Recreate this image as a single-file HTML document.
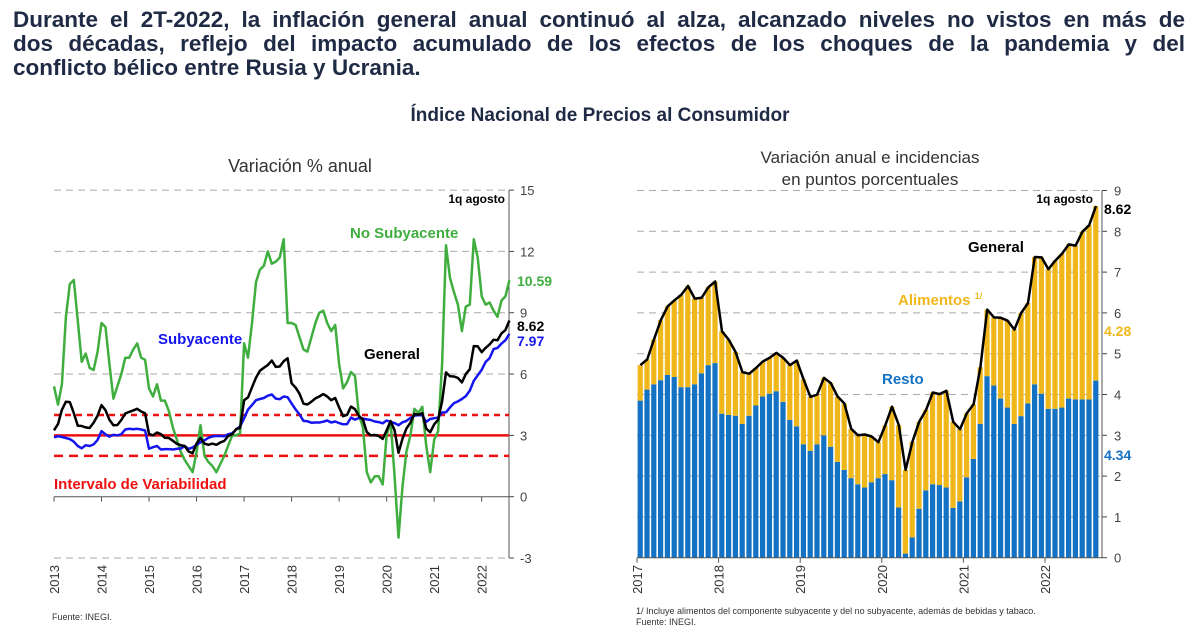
<!DOCTYPE html>
<html><head><meta charset="utf-8"><style>
body{margin:0;width:1200px;height:631px;background:#fff;font-family:"Liberation Sans",sans-serif;position:relative;overflow:hidden}
#hdr{position:absolute;left:13px;top:8px;width:1172px;font-weight:bold;font-size:22.5px;line-height:24px;color:#1f2a44}
#hdr div{white-space:nowrap;text-align:justify;text-align-last:justify}
#hdr div.last{text-align-last:left}
svg{position:absolute;left:0;top:0}
</style></head><body>
<div id="hdr"><div>Durante el 2T-2022, la inflación general anual continuó al alza, alcanzado niveles no vistos en más de</div><div>dos décadas, reflejo del impacto acumulado de los efectos de los choques de la pandemia y del</div><div class="last">conflicto bélico entre Rusia y Ucrania.</div></div>
<svg id="s" width="1200" height="631">
<text x="600" y="121" text-anchor="middle" font-size="19" font-weight="bold" fill="#1f2a44">Índice Nacional de Precios al Consumidor</text>
<text x="300" y="172" text-anchor="middle" font-size="18" fill="#333">Variación % anual</text>
<text x="870" y="163" text-anchor="middle" font-size="17" fill="#333">Variación anual e incidencias</text>
<text x="870" y="185" text-anchor="middle" font-size="17" fill="#333">en puntos porcentuales</text>
<g id="L"></g><g id="R"></g>
<text x="52" y="620" font-size="9" fill="#333">Fuente: INEGI.</text>
<text x="636" y="614" font-size="9" fill="#333">1/ Incluye alimentos del componente subyacente y del no subyacente, además de bebidas y tabaco.</text>
<text x="636" y="625" font-size="9" fill="#333">Fuente: INEGI.</text>
</svg>
<script>
const leftYears=["2013","2014","2015","2016","2017","2018","2019","2020","2021","2022"];
const leftTicks=[-3,0,3,6,9,12,15];
const general=[3.25,3.55,4.25,4.65,4.63,4.09,3.47,3.46,3.39,3.36,3.62,3.97,
4.48,4.23,3.76,3.50,3.51,3.75,4.07,4.15,4.22,4.30,4.17,4.08,
3.07,3.00,3.14,3.06,2.88,2.87,2.74,2.59,2.52,2.48,2.21,2.13,
2.61,2.87,2.60,2.54,2.60,2.54,2.65,2.73,2.97,3.06,3.31,3.36,
4.72,4.86,5.35,5.82,6.16,6.31,6.44,6.66,6.35,6.37,6.63,6.77,
5.55,5.34,5.04,4.55,4.51,4.65,4.81,4.90,5.02,4.90,4.72,4.83,
4.37,3.94,4.00,4.41,4.28,3.95,3.78,3.16,3.00,3.02,2.97,2.83,
3.24,3.70,3.25,2.15,2.84,3.33,3.62,4.05,4.01,4.09,3.33,3.15,
3.54,3.76,4.67,6.08,5.89,5.88,5.81,5.59,6.00,6.24,7.37,7.36,
7.07,7.28,7.45,7.68,7.65,7.99,8.15,8.62];
const subyacente=[2.90,2.96,2.92,2.87,2.82,2.69,2.48,2.37,2.52,2.48,2.56,2.78,
3.21,3.05,2.94,3.03,3.00,3.06,3.29,3.32,3.30,3.32,3.29,3.24,
2.35,2.42,2.48,2.31,2.33,2.33,2.31,2.34,2.36,2.47,2.34,2.41,
2.54,2.66,2.76,2.88,2.95,2.97,2.97,2.96,3.06,3.10,3.29,3.44,
3.84,4.26,4.48,4.72,4.78,4.83,4.94,5.00,4.80,4.77,4.90,4.87,
4.56,4.27,4.02,3.71,3.69,3.62,3.63,3.63,3.67,3.73,3.63,3.68,
3.60,3.54,3.55,3.87,3.77,3.85,3.82,3.78,3.75,3.68,3.65,3.59,
3.73,3.66,3.60,3.50,3.64,3.71,3.85,3.97,3.99,3.98,3.66,3.80,
3.84,3.87,4.12,4.13,4.37,4.58,4.66,4.78,4.92,5.19,5.67,5.94,
6.21,6.59,6.78,7.22,7.28,7.49,7.65,7.97];
const noSubyacente=[5.4,4.5,5.5,8.8,10.4,10.6,8.6,6.6,7.0,6.3,6.2,7.1,
8.5,8.3,6.5,4.8,5.4,6.0,6.8,6.8,7.2,7.5,6.8,6.7,
5.3,4.9,5.5,4.7,4.7,4.2,3.4,2.8,2.2,1.8,1.5,1.2,
2.2,3.5,2.0,1.7,1.5,1.2,1.6,2.0,2.5,3.0,3.0,3.1,
7.5,6.8,8.5,10.5,11.1,11.3,12.0,11.4,11.5,11.7,12.6,8.5,
8.5,8.4,7.8,7.2,7.1,7.8,8.5,9.0,9.1,8.5,8.1,8.4,
6.5,5.3,5.6,6.1,5.9,4.0,3.4,1.2,0.7,1.0,1.0,0.6,
3.0,3.7,1.0,-2.0,0.5,2.2,3.0,4.3,4.1,4.4,2.5,1.2,
2.8,3.2,6.5,12.3,10.7,10.0,9.4,8.1,9.3,9.4,12.6,11.7,
9.8,9.4,9.5,9.1,8.8,9.6,9.8,10.59];
const rightYears=["2017","2018","2019","2020","2021","2022"];
const rightTicks=[0,1,2,3,4,5,6,7,8,9];
const resto=[3.85,4.12,4.25,4.35,4.48,4.43,4.18,4.18,4.25,4.52,4.72,4.77,
3.53,3.50,3.48,3.28,3.48,3.73,3.95,4.02,4.08,3.82,3.38,3.22,
2.78,2.62,2.78,3.00,2.72,2.35,2.15,1.95,1.80,1.72,1.85,1.95,
2.05,1.90,1.23,0.10,0.50,1.20,1.65,1.80,1.78,1.72,1.22,1.38,
1.97,2.42,3.28,4.45,4.22,3.90,3.68,3.28,3.47,3.78,4.25,4.02,
3.65,3.65,3.68,3.90,3.88,3.88,3.88,4.34];
const generalR=general.slice(48);

const NS="http://www.w3.org/2000/svg";
function mk(p,tag,a,txt){const e=document.createElementNS(NS,tag);for(const k in a)e.setAttribute(k,a[k]);if(txt!==undefined)e.textContent=txt;p.appendChild(e);return e;}

// LEFT
const L=document.getElementById('L');
const lx=i=>54+i*3.96, ly=v=>496.7-v*20.44;
leftTicks.forEach(t=>{
  if(t!==0&&t!==3){const g=mk(L,'line',{x1:54,x2:509,y1:ly(t),y2:ly(t),stroke:'#aaa','stroke-dasharray':'7,5'});
  }
  const tl=mk(L,'text',{x:520,y:ly(t)+5,'font-size':13,fill:'#444'},String(t));
  
  mk(L,'line',{x1:509,x2:514,y1:ly(t),y2:ly(t),stroke:'#444'});
});
let ax=mk(L,'line',{x1:54,x2:509,y1:ly(0),y2:ly(0),stroke:'#555'});

let ay=mk(L,'line',{x1:509,x2:509,y1:ly(15),y2:ly(-3),stroke:'#555'});

leftYears.forEach((y,k)=>{const x=lx(k*12);
  mk(L,'line',{x1:x,x2:x,y1:ly(0),y2:ly(0)+5,stroke:'#555'});
  const t=mk(L,'text',{x:0,y:0,'font-size':13,fill:'#333','text-anchor':'end',transform:`translate(${x+5},565) rotate(-90)`},y);
  });
[[4,'6,5'],[3,''],[2,'9,6']].forEach(([v,d])=>{const a={x1:54,x2:509,y1:ly(v),y2:ly(v),stroke:'#ee1111','stroke-width':2.5};if(d)a['stroke-dasharray']=d;
  const e=mk(L,'line',a);});
function line(p,data,fx,fy,col,w,name){const d=data.map((v,i)=>(i?'L':'M')+fx(i).toFixed(1)+','+fy(v).toFixed(1)).join('');
  const e=mk(p,'path',{d:d,fill:'none',stroke:col,'stroke-width':w,'stroke-linejoin':'round'});
  }
line(L,noSubyacente,lx,ly,'#3fae3f',2.5,'no-subyacente-line');
line(L,subyacente,lx,ly,'#1515f0',2.5,'subyacente-line');
line(L,general,lx,ly,'#000',2.5,'general-line');
function lab(p,x,y,s,c,sz,txt,name,anchor){const e=mk(p,'text',{x:x,y:y,'font-size':sz,'font-weight':'bold',fill:c,'text-anchor':anchor||'start'},txt);
  return e;}
lab(L,505,203,0,'#000',12,'1q agosto','left-date-label','end');
lab(L,350,238,0,'#3fae3f',15,'No Subyacente','no-subyacente-label');
lab(L,517,286,0,'#3fae3f',14,noSubyacente[noSubyacente.length-1].toFixed(2),'no-subyacente-value');
lab(L,517,331,0,'#000',14,general[general.length-1].toFixed(2),'general-value');
lab(L,517,346,0,'#1515f0',14,subyacente[subyacente.length-1].toFixed(2),'subyacente-value');
lab(L,158,344,0,'#1515f0',15,'Subyacente','subyacente-label');
lab(L,364,359,0,'#000',15,'General','general-label');
lab(L,54,489,0,'#ee1111',15,'Intervalo de Variabilidad','variability-label');

// RIGHT
const R=document.getElementById('R');
const slot=6.8, rx=i=>637+i*slot, ry=v=>557.7-v*40.8;
rightTicks.forEach(t=>{
  if(t>0){const g=mk(R,'line',{x1:637,x2:1102,y1:ry(t),y2:ry(t),stroke:'#aaa','stroke-dasharray':'7,5'});
  }
  const tl=mk(R,'text',{x:1114,y:ry(t)+5,'font-size':13,fill:'#444'},String(t));
  
  mk(R,'line',{x1:1102,x2:1107,y1:ry(t),y2:ry(t),stroke:'#444'});
});
resto.forEach((v,i)=>{const x=rx(i)+0.6,w=slot-1.6;
  const b=mk(R,'rect',{x:x,y:ry(v),width:w,height:ry(0)-ry(v),fill:'#1472c4'});
  
  const a=generalR[i]-v;
  const o=mk(R,'rect',{x:x,y:ry(generalR[i]),width:w,height:ry(0)-ry(a),fill:'#f0b71a'});
  });
let rax=mk(R,'line',{x1:637,x2:1102,y1:ry(0),y2:ry(0),stroke:'#555'});

let ray=mk(R,'line',{x1:1102,x2:1102,y1:ry(9),y2:ry(0),stroke:'#555'});

rightYears.forEach((y,k)=>{const x=rx(k*12);
  mk(R,'line',{x1:x,x2:x,y1:ry(0),y2:ry(0)+5,stroke:'#555'});
  const t=mk(R,'text',{x:0,y:0,'font-size':13,fill:'#333','text-anchor':'end',transform:`translate(${x+5},565) rotate(-90)`},y);
  });
line(R,generalR,i=>rx(i)+slot/2,ry,'#000',2.5,'general-line-right');
lab(R,1093,203,0,'#000',12,'1q agosto','right-date-label','end');
lab(R,1104,214,0,'#000',14,generalR[generalR.length-1].toFixed(2),'general-value-right');
lab(R,968,252,0,'#000',15,'General','general-label-right');
const al=lab(R,898,305,0,'#f0b71a',15,'Alimentos ','alimentos-label');
mk(al,'tspan',{'font-size':9,dy:-6},'1/');
lab(R,1104,336,0,'#f0b71a',14,(generalR[generalR.length-1]-resto[resto.length-1]).toFixed(2),'alimentos-value');
lab(R,882,384,0,'#1472c4',15,'Resto','resto-label');
lab(R,1104,460,0,'#1472c4',14,resto[resto.length-1].toFixed(2),'resto-value');
</script>
</body></html>
